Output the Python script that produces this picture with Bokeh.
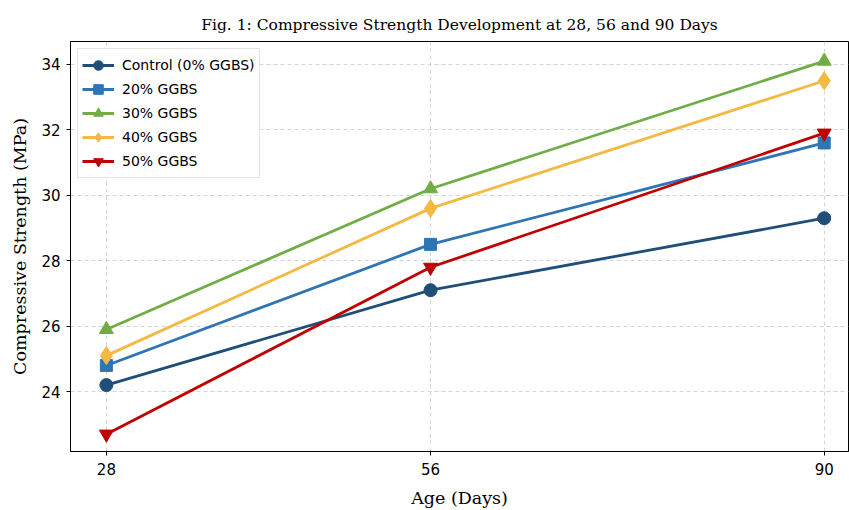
from bokeh.plotting import figure
from bokeh.embed import file_html
from bokeh.resources import INLINE
from bokeh.models import FixedTicker, Range1d, Legend, LegendItem

ages = [28, 56, 90]
control = [24.2, 27.1, 29.3]
ggbs20 = [24.8, 28.5, 31.6]
ggbs30 = [25.9, 30.2, 34.1]
ggbs40 = [25.1, 29.6, 33.5]
ggbs50 = [22.7, 27.8, 31.9]
y_ticks = [24, 26, 28, 30, 32, 34]

series = [
    ("Control (0% GGBS)", control, "#1f4e79", "circle", 13),
    ("20% GGBS", ggbs20, "#2e75b6", "square", 12),
    ("30% GGBS", ggbs30, "#70ad47", "triangle", 14),
    ("40% GGBS", ggbs40, "#f4b942", "diamond", 18),
    ("50% GGBS", ggbs50, "#c00000", "inverted_triangle", 14),
]

p = figure(width=849, height=510, output_backend="svg", toolbar_location=None,
           x_range=Range1d(24.9, 92.1), y_range=Range1d(22.17, 34.7),
           min_border_left=70, min_border_right=1, min_border_top=41, min_border_bottom=58,
           title="Fig. 1: Compressive Strength Development at 28, 56 and 90 Days")
p.title.text_font = "DejaVu Serif"
p.title.text_font_size = "15.5px"
p.title.text_font_style = "normal"
p.title.align = "center"
p.title.text_color = "#000000"
p.title.standoff = 15

items = []
for name, vals, color, marker, size in series:
    r1 = p.line(ages, vals, line_color=color, line_width=2.8)
    r2 = p.scatter(ages, vals, marker=marker, size=size, fill_color=color, line_color=color)
    items.append(LegendItem(label=name, renderers=[r1, r2]))

legend = Legend(items=items, location="top_left")
legend.label_text_font = "DejaVu Sans"
legend.label_text_font_size = "14px"
legend.label_text_color = "#000000"
legend.glyph_width = 32
legend.glyph_height = 24
legend.spacing = 0
legend.label_height = 24
legend.label_standoff = 8
legend.padding = 4
legend.margin = 7
legend.border_line_color = "#cccccc"
legend.border_line_width = 1
legend.background_fill_alpha = 0.9
p.add_layout(legend)

p.xaxis.ticker = FixedTicker(ticks=ages)
p.yaxis.ticker = FixedTicker(ticks=y_ticks)
for ax in (p.xaxis, p.yaxis):
    ax.major_label_text_font = "DejaVu Sans"
    ax.major_label_text_font_size = "15px"
    ax.major_label_text_color = "#000000"
    ax.axis_label_text_font = "DejaVu Serif"
    ax.axis_label_text_font_size = "17.5px"
    ax.axis_label_text_font_style = "normal"
    ax.axis_label_text_color = "#000000"
    ax.minor_tick_line_color = None
    ax.major_tick_out = 4
    ax.major_tick_in = 0
    ax.axis_line_color = "#000000"
    ax.major_tick_line_color = "#000000"
p.xaxis.axis_label = "Age (Days)"
p.yaxis.axis_label = "Compressive Strength (MPa)"
p.xaxis.major_label_standoff = 7
p.yaxis.major_label_standoff = 6
p.xaxis.axis_label_standoff = 10
p.yaxis.axis_label_standoff = 8

p.grid.grid_line_color = "#cccccc"
p.grid.grid_line_dash = "4 3"
p.grid.grid_line_alpha = 0.8
p.outline_line_color = "#000000"
p.outline_line_width = 1
p.background_fill_color = "white"
p.border_fill_color = "white"

open("out.html", "w").write(file_html(p, INLINE))
